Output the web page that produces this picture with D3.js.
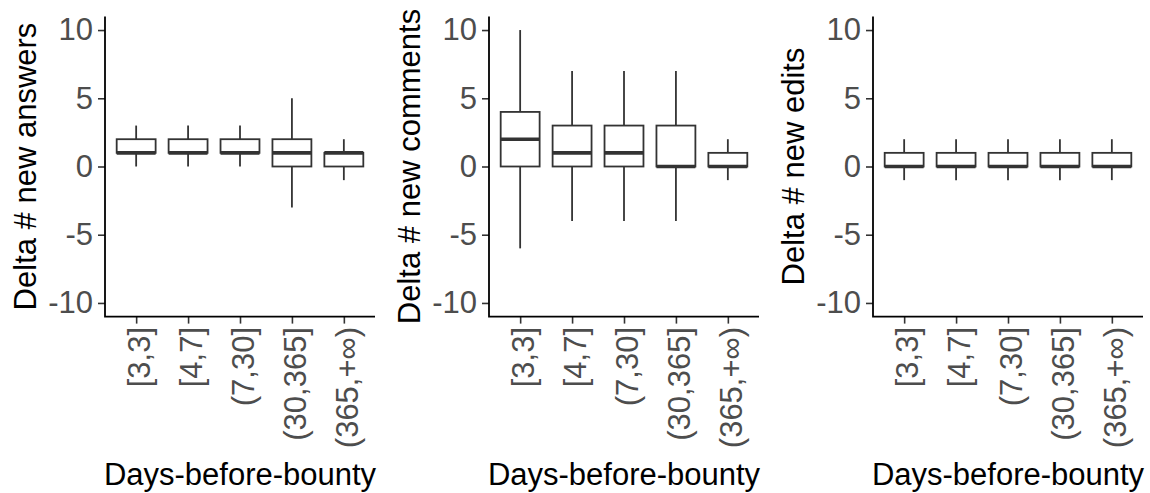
<!DOCTYPE html>
<html>
<head>
<meta charset="utf-8">
<script src="https://cdn.jsdelivr.net/npm/d3@7"></script>
<style>
  body { margin: 0; background: #fff; }
  text { font-family: "Liberation Sans", Arial, sans-serif; }
</style>
</head>
<body>
<svg id="chart"></svg>
<script>
// Define width and height
const width = 1150;
const height = 493;

// Categories on the x axis
const categories = ["[3,3]", "[4,7]", "(7,30]", "(30,365]", "(365,+\u221E)"];
const yTicks = [-10, -5, 0, 5, 10];

// Box stats per category: [lower whisker, Q1, median, Q3, upper whisker]
const answersBoxes = [[0, 1, 1, 2, 3], [0, 1, 1, 2, 3], [0, 1, 1, 2, 3], [-3, 0, 1, 2, 5], [-1, 0, 1, 1, 2]];
const commentsBoxes = [[-6, 0, 2, 4, 10], [-4, 0, 1, 3, 7], [-4, 0, 1, 3, 7], [-4, 0, 0, 3, 7], [-1, 0, 0, 1, 2]];
const editsBoxes = [[-1, 0, 0, 1, 2], [-1, 0, 0, 1, 2], [-1, 0, 0, 1, 2], [-1, 0, 0, 1, 2], [-1, 0, 0, 1, 2]];

const panelTitles = ["Delta # new answers", "Delta # new comments", "Delta # new edits"];
const panelData = [answersBoxes, commentsBoxes, editsBoxes];
const xTitle = "Days-before-bounty";

const svg = d3.select("#chart")
    .attr("width", width)
    .attr("height", height);

// Shared y scale (ggplot adds 5% on each side)
const y = d3.scaleLinear()
    .domain([-11, 11])
    .range([316.6, 16.4]);

const panelLeft = [105, 489, 873];
const panelWidth = 270;
const tickFont = 31;
const titleFont = 31;

panelData.forEach((boxes, p) => {
    const x0 = panelLeft[p];
    const x = d3.scalePoint()
        .domain(categories)
        .range([x0, x0 + panelWidth])
        .padding(0.6);
    const boxW = x.step() * 0.75;

    const g = svg.append("g");

    // boxes
    const b = g.selectAll(".box")
        .data(boxes.map((s, i) => ({ cat: categories[i], s: s })))
        .enter().append("g");

    // whiskers
    b.append("line")
        .attr("x1", d => x(d.cat)).attr("x2", d => x(d.cat))
        .attr("y1", d => y(d.s[3])).attr("y2", d => y(d.s[4]))
        .attr("stroke", "#333333").attr("stroke-width", 1.8);
    b.append("line")
        .attr("x1", d => x(d.cat)).attr("x2", d => x(d.cat))
        .attr("y1", d => y(d.s[0])).attr("y2", d => y(d.s[1]))
        .attr("stroke", "#333333").attr("stroke-width", 1.8);

    // box body
    b.append("rect")
        .attr("x", d => x(d.cat) - boxW / 2)
        .attr("width", boxW)
        .attr("y", d => y(d.s[3]))
        .attr("height", d => y(d.s[1]) - y(d.s[3]))
        .attr("fill", "#fff")
        .attr("stroke", "#333333")
        .attr("stroke-width", 1.8);

    // median
    b.append("line")
        .attr("x1", d => x(d.cat) - boxW / 2).attr("x2", d => x(d.cat) + boxW / 2)
        .attr("y1", d => y(d.s[2])).attr("y2", d => y(d.s[2]))
        .attr("stroke", "#333333").attr("stroke-width", 3.6);

    // y axis
    const yAxis = g.append("g")
        .attr("transform", `translate(${x0},0)`)
        .call(d3.axisLeft(y).tickValues(yTicks).tickSize(7).tickPadding(5).tickFormat(d3.format("d")));
    yAxis.select(".domain").remove();
    yAxis.selectAll(".tick line").attr("stroke", "#333333").attr("stroke-width", 1.6);
    yAxis.selectAll(".tick text")
        .attr("fill", "#4D4D4D")
        .style("font-size", tickFont + "px")
        .style("font-family", "Liberation Sans, Arial, sans-serif")
        .text(d => d < 0 ? "-" + Math.abs(d) : d);

    // x axis ticks
    const xAxis = g.append("g")
        .attr("transform", `translate(0,${y.range()[0]})`)
        .call(d3.axisBottom(x).tickSize(7).tickFormat(""));
    xAxis.select(".domain").remove();
    xAxis.selectAll(".tick line").attr("stroke", "#333333").attr("stroke-width", 1.6);

    // rotated x labels
    g.selectAll(".xlab")
        .data(categories)
        .enter().append("text")
        .attr("transform", d => `translate(${x(d)},327) rotate(-90)`)
        .attr("text-anchor", "end")
        .attr("dy", "0.45em")
        .attr("fill", "#4D4D4D")
        .style("font-size", tickFont + "px")
        .text(d => d);

    // axis lines
    g.append("path")
        .attr("d", `M${x0},${y.range()[1]}V${y.range()[0]}H${x0 + panelWidth}`)
        .attr("fill", "none")
        .attr("stroke", "#000")
        .attr("stroke-width", 1.8);

    // y title
    g.append("text")
        .attr("transform", `translate(${x0 - 69},${(y.range()[0] + y.range()[1]) / 2}) rotate(-90)`)
        .attr("text-anchor", "middle")
        .attr("fill", "#000")
        .style("font-size", titleFont + "px")
        .text(panelTitles[p]);

    // x title
    g.append("text")
        .attr("x", x0 + panelWidth / 2)
        .attr("y", 485)
        .attr("text-anchor", "middle")
        .attr("fill", "#000")
        .style("font-size", titleFont + "px")
        .text(xTitle);
});
</script>
</body>
</html>
